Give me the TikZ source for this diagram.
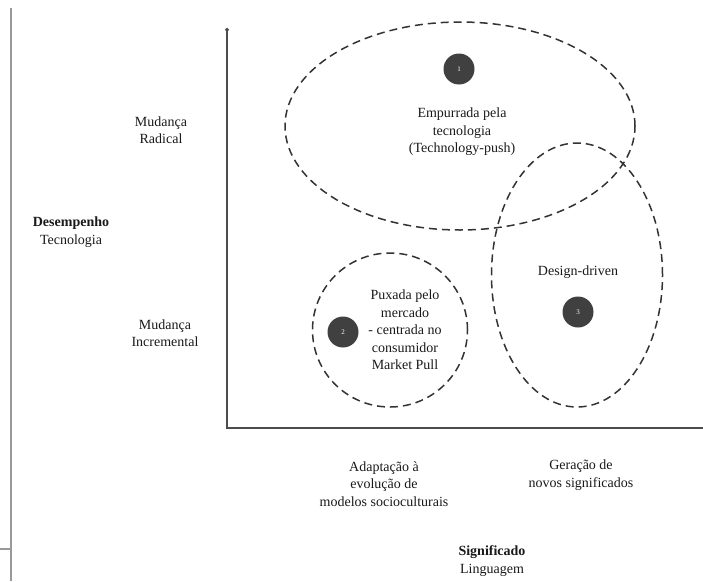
\documentclass[tikz,border=0pt]{standalone}
\usepackage{fontspec}
\setmainfont{Liberation Serif}
\usetikzlibrary{arrows.meta,shapes.geometric}
\tikzset{
  zone/.style={ellipse, draw=black!80, dash pattern=on 8pt off 5pt, line width=1.5pt, inner sep=0pt},
  badge/.style={circle, fill=black!75, text=white, minimum size=31pt, inner sep=0pt, font=\fontsize{7}{7}\selectfont},
  lbl/.style={align=center, text=black!90, font=\fontsize{14}{17.5}\selectfont}
}
\begin{document}
\begin{tikzpicture}[x=1pt,y=-1pt]
  \useasboundingbox (0,0) rectangle (703,581);
  \draw[black!40, line width=2pt] (11,8) -- (11,581) (0,549) -- (11,549);
  % axes
  \coordinate (top) at (227,28);
  \coordinate (O) at (227,428);
  \coordinate (right) at (703,428);
  \draw[black!70, line width=1.5pt, {Circle[length=3.5pt]}-] (top) -- (O) -- (right);
  % zones
  \node[zone, minimum width=350pt, minimum height=208pt] (pushzone) at (460,126) {};
  \node[zone, minimum width=171pt, minimum height=264pt] (designzone) at (577,275) {};
  \node[zone, minimum width=155pt, minimum height=154pt] (pullzone) at (390,330) {};
  \node[badge] (b1) at (459,69) {1};
  \node[badge] (b2) at (343,332) {2};
  \node[badge] (b3) at (578,312) {3};
  \node[lbl] (push) at (462,132) {Empurrada pela\\tecnologia\\(Technology-push)};
  \node[lbl] (design) at (578,272) {Design-driven};
  \node[lbl] (pull) at (405,330) {Puxada pelo\\mercado\\- centrada no\\consumidor\\Market Pull};
  % axis labels
  \node[lbl] (radical) at (161,130) {Mudança\\Radical};
  \node[lbl] (incr) at (165,333) {Mudança\\Incremental};
  \node[lbl] (desemp) at (71,232) {\textbf{Desempenho}\\Tecnologia};
  \node[lbl] (adapt) at (384,484) {Adaptação à\\evolução de\\modelos socioculturais};
  \node[lbl] (geracao) at (581,475) {Geração de\\novos significados};
  \node[lbl] (signif) at (492,561) {\textbf{Significado}\\Linguagem};
\end{tikzpicture}
\end{document}
